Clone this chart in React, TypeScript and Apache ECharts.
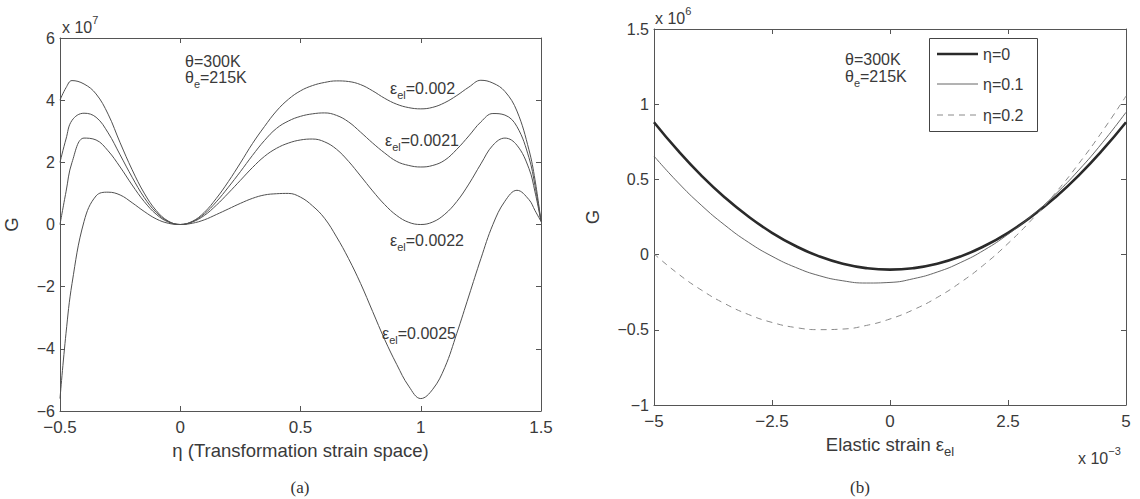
import React, { useEffect, useRef } from "react";
import * as echarts from "echarts";

// ---------- data (a) ----------
const etaGrid = [
  -0.5, -0.475, -0.45, -0.4, -0.35, -0.3, -0.25, -0.2, -0.15, -0.1, -0.05,
  0, 0.05, 0.1, 0.15, 0.2, 0.25, 0.3, 0.35, 0.4, 0.45,
  0.5, 0.55, 0.6, 0.65, 0.7, 0.75, 0.8, 0.85, 0.9, 0.95,
  1.0, 1.05, 1.1, 1.15, 1.2, 1.25, 1.3, 1.35, 1.4, 1.45, 1.475, 1.5,
];
const gEps0020 = [
  4.0, 4.4, 4.63, 4.52, 4.2, 3.55, 2.63, 1.76, 1.01, 0.45, 0.11,
  0, 0.1, 0.39, 0.84, 1.38, 1.98, 2.6, 3.15, 3.65, 4.03,
  4.3, 4.47, 4.57, 4.62, 4.6, 4.5, 4.3, 4.06, 3.87, 3.76,
  3.72, 3.77, 3.92, 4.15, 4.42, 4.64, 4.55, 4.28, 3.65, 2.4, 1.44, 0.1,
];
const gEps0021 = [
  2.0, 2.75, 3.35, 3.58, 3.45, 2.95, 2.24, 1.52, 0.87, 0.39, 0.1,
  0, 0.09, 0.34, 0.73, 1.2, 1.7, 2.22, 2.7, 3.09, 3.33,
  3.48, 3.56, 3.59, 3.51, 3.3, 2.97, 2.62, 2.3, 2.03, 1.9,
  1.85, 1.9, 2.07, 2.42, 2.85, 3.3, 3.57, 3.52, 3.15, 2.15, 1.25, 0.1,
];
const gEps0022 = [
  0, 1.05, 2.0, 2.78, 2.72, 2.37, 1.85, 1.27, 0.74, 0.33, 0.08,
  0, 0.08, 0.29, 0.62, 1.01, 1.42, 1.83, 2.19, 2.45, 2.62,
  2.72, 2.75, 2.66, 2.42, 2.03, 1.56, 1.08, 0.64, 0.29, 0.07,
  0, 0.08, 0.33, 0.74, 1.3, 1.95, 2.55, 2.78, 2.55, 1.8, 1.05, 0.1,
];
const gEps0025 = [
  -5.6, -3.5, -1.9, 0.1, 0.92, 1.04, 0.95, 0.7, 0.42, 0.18, 0.04,
  0, 0.04, 0.15, 0.32, 0.5, 0.68, 0.84, 0.95, 0.99, 1.0,
  0.88, 0.6, 0.2, -0.4, -1.1, -1.9, -2.8, -3.7, -4.5, -5.2,
  -5.6, -5.3, -4.6, -3.5, -2.3, -1.1, 0.0, 0.75, 1.1, 0.8, 0.45, 0.1,
];
const xTicksA = [-0.5, 0, 0.5, 1, 1.5];
const yTicksA = [-6, -4, -2, 0, 2, 4, 6];

// ---------- data (b) ----------
const strainGrid = [-5, -4.5, -4, -3.5, -3, -2.5, -2, -1.5, -1, -0.5, 0, 0.5, 1, 1.5, 2, 2.5, 3, 3.5, 4, 4.5, 5];
const gEta00 = [
  0.88, 0.694, 0.527, 0.38, 0.253, 0.145, 0.057, -0.012, -0.061, -0.09, -0.1,
  -0.09, -0.061, -0.012, 0.057, 0.145, 0.253, 0.38, 0.527, 0.694, 0.88,
];
const gEta01 = [
  0.655, 0.482, 0.329, 0.196, 0.082, -0.011, -0.085, -0.14, -0.174, -0.189, -0.185,
  -0.16, -0.116, -0.052, 0.031, 0.135, 0.258, 0.4, 0.562, 0.744, 0.946,
];
const gEta02 = [
  0.005, -0.125, -0.235, -0.326, -0.398, -0.451, -0.485, -0.499, -0.495, -0.471, -0.428,
  -0.366, -0.285, -0.184, -0.065, 0.074, 0.231, 0.408, 0.605, 0.82, 1.054,
];
const xTicksB = [-5, -2.5, 0, 2.5, 5];
const yTicksB = [-1, -0.5, 0, 0.5, 1, 1.5];

const FONT = "'Liberation Sans', Arial, sans-serif";
const SERIF = "'Liberation Serif', 'Times New Roman', serif";
const TXT = "#3a3a3a";
const AX = "#555";
const minus = (v: number) => String(v).replace("-", "\u2212");

const pairs = (xs: number[], ys: number[]) => xs.map((x, i) => [x, ys[i]]);

function axisPair(grid: number, ticks: number[], isX: boolean, name: any, nameGap: number, rich: any) {
  const min = ticks[0];
  const max = ticks[ticks.length - 1];
  const interval = ticks[1] - ticks[0];
  const common = {
    gridIndex: grid,
    type: "value",
    min,
    max,
    interval,
    splitLine: { show: false },
    axisLine: { show: true, onZero: false, lineStyle: { color: AX, width: 1 } },
    axisTick: { show: true, inside: true, length: 5, lineStyle: { color: AX } },
  };
  const main = {
    ...common,
    position: isX ? "bottom" : "left",
    axisLabel: {
      show: true,
      formatter: minus,
      color: TXT,
      fontFamily: FONT,
      fontSize: isX ? 17 : 16,
      lineHeight: isX ? 17 : 14,
      margin: isX ? 8 : 5,
      showMinLabel: true,
      showMaxLabel: true,
    },
    name,
    nameLocation: "middle",
    nameGap,
    nameTextStyle: { color: TXT, fontFamily: FONT, fontSize: 18.5, rich },
  };
  const second = {
    ...common,
    position: isX ? "top" : "right",
    axisLabel: { show: false },
  };
  return [main, second];
}

export default function App() {
  const ref = useRef<HTMLDivElement>(null);
  useEffect(() => {
    if (!ref.current) return;
    const chart = echarts.init(ref.current, undefined, { renderer: "svg" });
    const subRich = {
      sub: { fontSize: 11, fontFamily: FONT, fill: TXT, color: TXT, padding: [14, 0, 0, 0] },
      sup: { fontSize: 11, fontFamily: FONT, fill: TXT, color: TXT, padding: [0, 0, 14, 0] },
    };
    const nameRich = {
      sub: { fontSize: 13, fontFamily: FONT, color: TXT, padding: [15, 0, 0, 0] },
    };
    const text = (x: number, y: number, t: string, extra: any = {}) => ({
      type: "text",
      x,
      y,
      z: 100,
      style: {
        text: t,
        fontSize: 16,
        fontFamily: FONT,
        fill: TXT,
        verticalAlign: "middle",
        align: "left",
        rich: subRich,
        ...extra,
      },
    });

    const [xa1, xa2] = axisPair(0, xTicksA, true, "\u03b7 (Transformation strain space)", 27, nameRich);
    const [ya1, ya2] = axisPair(0, yTicksA, false, "G", 39, nameRich);
    const [xb1, xb2] = axisPair(1, xTicksB, true, "Elastic strain \u03b5{sub|el}", 25, nameRich);
    const [yb1, yb2] = axisPair(1, yTicksB, false, "G", 52, nameRich);

    const thin = { color: "#505050", width: 1 };

    chart.setOption({
      animation: false,
      backgroundColor: "#ffffff",
      grid: [
        { left: 60, top: 38, width: 481, height: 373, show: false },
        { left: 654, top: 29, width: 472, height: 376, show: false },
      ],
      xAxis: [xa1, xa2, xb1, xb2],
      yAxis: [ya1, ya2, yb1, yb2],
      series: [
        { type: "line", xAxisIndex: 0, yAxisIndex: 0, data: pairs(etaGrid, gEps0020), smooth: 0.4, showSymbol: false, lineStyle: thin },
        { type: "line", xAxisIndex: 0, yAxisIndex: 0, data: pairs(etaGrid, gEps0021), smooth: 0.4, showSymbol: false, lineStyle: thin },
        { type: "line", xAxisIndex: 0, yAxisIndex: 0, data: pairs(etaGrid, gEps0022), smooth: 0.4, showSymbol: false, lineStyle: thin },
        { type: "line", xAxisIndex: 0, yAxisIndex: 0, data: pairs(etaGrid, gEps0025), smooth: 0.4, showSymbol: false, lineStyle: thin },
        { name: "\u03b7=0", type: "line", xAxisIndex: 2, yAxisIndex: 2, data: pairs(strainGrid, gEta00), smooth: 0.5, showSymbol: false, lineStyle: { color: "#2a2a2a", width: 2.6 } },
        { name: "\u03b7=0.1", type: "line", xAxisIndex: 2, yAxisIndex: 2, data: pairs(strainGrid, gEta01), smooth: 0.5, showSymbol: false, lineStyle: { color: "#555", width: 0.9 } },
        { name: "\u03b7=0.2", type: "line", xAxisIndex: 2, yAxisIndex: 2, data: pairs(strainGrid, gEta02), smooth: 0.5, showSymbol: false, lineStyle: { color: "#8a8a8a", width: 1, type: [6, 5] } },
      ],
      graphic: [
        // exponents
        text(62, 27, "x 10{sup|7}"),
        text(655, 18, "x 10{sup|6}"),
        text(1078, 458, "x 10{sup|\u22123}"),
        // (a) annotations
        text(185, 61, "\u03b8=300K"),
        text(185, 77, "\u03b8{sub|e}=215K"),
        text(390, 88, "\u03b5{sub|el}=0.002"),
        text(385, 140, "\u03b5{sub|el}=0.0021"),
        text(390, 240, "\u03b5{sub|el}=0.0022"),
        text(382, 333, "\u03b5{sub|el}=0.0025"),
        // (b) annotations
        text(845, 59, "\u03b8=300K"),
        text(845, 76, "\u03b8{sub|e}=215K"),
        // legend box
        { type: "rect", z: 100, shape: { x: 929.5, y: 38.5, width: 108, height: 93 }, style: { fill: "#fff", stroke: "#444", lineWidth: 1 } },
        { type: "line", z: 101, shape: { x1: 937, y1: 54, x2: 978, y2: 54 }, style: { stroke: "#2a2a2a", lineWidth: 2.6 } },
        { type: "line", z: 101, shape: { x1: 937, y1: 84, x2: 978, y2: 84 }, style: { stroke: "#555", lineWidth: 0.9 } },
        { type: "line", z: 101, shape: { x1: 937, y1: 115, x2: 978, y2: 115 }, style: { stroke: "#8a8a8a", lineWidth: 1, lineDash: [6, 5] } },
        { ...text(983, 54, "\u03b7=0"), z: 101 },
        { ...text(983, 84, "\u03b7=0.1"), z: 101 },
        { ...text(983, 115, "\u03b7=0.2"), z: 101 },
        // captions
        { type: "text", x: 300, y: 487, z: 100, style: { text: "(a)", fontSize: 17, fontFamily: SERIF, fill: "#333", align: "center", verticalAlign: "middle" } },
        { type: "text", x: 860, y: 487, z: 100, style: { text: "(b)", fontSize: 17, fontFamily: SERIF, fill: "#333", align: "center", verticalAlign: "middle" } },
      ],
    });
    return () => chart.dispose();
  }, []);
  return (
    <div
      ref={ref}
      style={{ position: "absolute", left: 0, top: 0, width: 1140, height: 499, background: "#fff" }}
    />
  );
}
